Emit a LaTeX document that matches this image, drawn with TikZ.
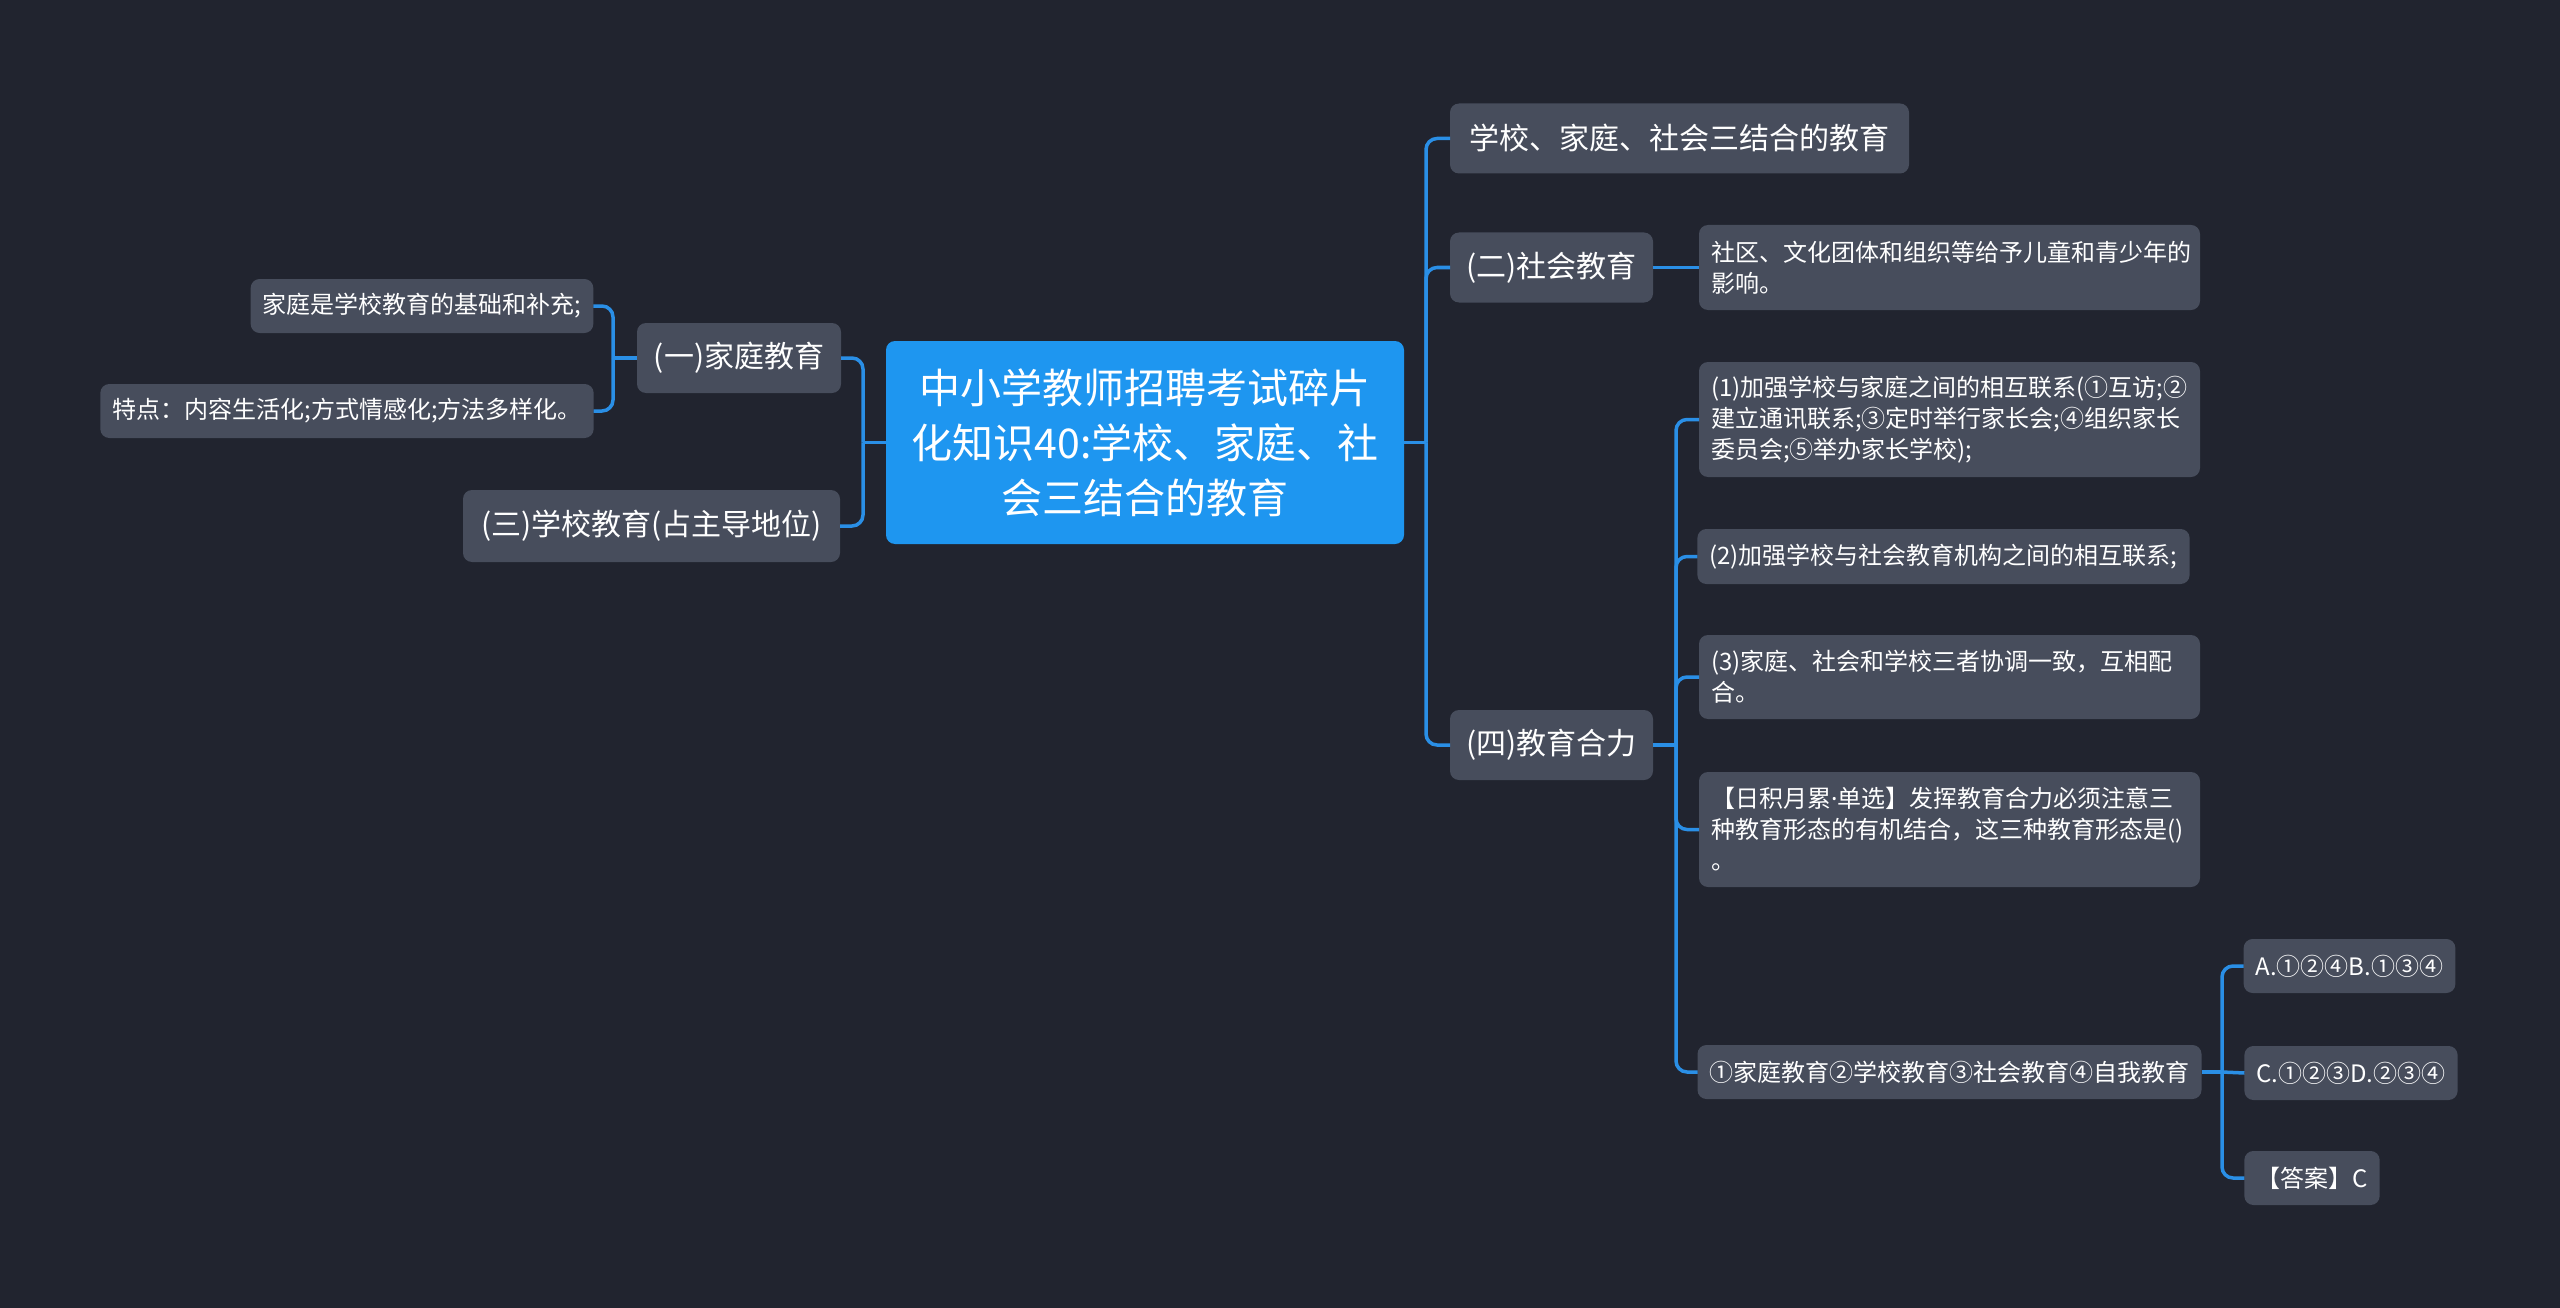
\documentclass[tikz,border=0pt]{standalone}
\usepackage{fontspec}
\setmainfont{Noto Sans CJK SC}
\newfontfamily\latinfont{Noto Sans}
\definecolor{bgcol}{HTML}{21242F}
\definecolor{nodefill}{HTML}{474D5C}
\definecolor{rootfill}{HTML}{1E96F0}
\definecolor{linkcol}{HTML}{2A8FE6}
\tikzset{
  box/.style={fill=nodefill, rounded corners=9pt, text=white, inner xsep=12pt, inner ysep=2pt, outer sep=0pt},
  lvone/.style={box, font=\fontsize{30}{38}\selectfont, align=center, minimum height=70pt},
  lvtwo/.style={box, font=\fontsize{24}{31}\selectfont},
  single/.style={lvtwo, align=center, minimum height=54pt},
  multi/.style={lvtwo, align=left},
  conn/.style={draw=linkcol, line width=3.5pt},
  elbow/.style={conn, rounded corners=11pt},
}
\begin{document}
\begin{tikzpicture}[x=1pt, y=-1pt]
\fill[bgcol] (0,0) rectangle (2560,1308);
\useasboundingbox (0,0) rectangle (2560,1308);

% root
\node[fill=rootfill, rounded corners=9pt, text=white, font=\fontsize{41}{55}\selectfont,
  align=center, text width=490pt, inner xsep=14pt, inner ysep=2pt, minimum height=203pt, outer sep=0pt]
  (root) at (1145,442.5) {中小学教师招聘考试碎片\\化知识40:学校、家庭、社\\会三结合的教育};

% left side
\node[lvone, minimum width=204pt] (fam) at (739,358) {(一)家庭教育};
\node[lvone, minimum width=377pt, minimum height=72pt] (sch) at (651.5,526) {(三)学校教育(占主导地位)};
\node[single, minimum width=338pt] (famA) at (422,306) {家庭是学校教育的基础和补充;};
\node[single, minimum width=488pt] (famB) at (347,411) {特点：内容生活化;方式情感化;方法多样化。};

% right side level 1
\node[lvone, minimum width=459pt] (tri) at (1679.5,138.5) {学校、家庭、社会三结合的教育};
\node[lvone, minimum width=203pt] (soc) at (1551.5,267.5) {(二)社会教育};
\node[lvone, minimum width=203pt] (force) at (1551.5,745) {(四)教育合力};

% level 2
\node[multi, text width=477pt, minimum height=85pt] (socA) at (1949.5,267.5)
  {社区、文化团体和组织等给予儿童和青少年的\\影响。};
\node[multi, text width=477pt, minimum height=115pt] (f1) at (1949.5,419.5)
  {(1)加强学校与家庭之间的相互联系(①互访;②\\建立通讯联系;③定时举行家长会;④组织家长\\委员会;⑤举办家长学校);};
\node[single, minimum width=488pt, minimum height=55pt] (f2) at (1943.5,556.5)
  {(2)加强学校与社会教育机构之间的相互联系;};
\node[multi, text width=477pt, minimum height=84pt] (f3) at (1949.5,677)
  {(3)家庭、社会和学校三者协调一致，互相配\\合。};
\node[multi, text width=477pt, minimum height=115pt] (f4) at (1949.5,829.5)
  {【日积月累{\latinfont ·}单选】发挥教育合力必须注意三\\种教育形态的有机结合，这三种教育形态是()\\。};
\node[single, minimum width=501pt] (f5) at (1949.5,1072)
  {①家庭教育②学校教育③社会教育④自我教育};

% level 3
\node[single, minimum width=209pt] (oA) at (2349.5,966) {A.①②④B.①③④};
\node[single, minimum width=212pt] (oC) at (2351,1073) {C.①②③D.②③④};
\node[single, minimum width=134pt] (ans) at (2312,1178) {【答案】C};

% spine coordinates
\coordinate (rR) at (1426,442.5);
\coordinate (rL) at (863,442.5);
\coordinate (famS) at (613,358);
\coordinate (forceS) at (1676,745);
\coordinate (f5S) at (2222,1072);

% connectors
\draw[conn] (root.east) -- (rR);
\draw[elbow] (rR) |- (tri.west);
\draw[elbow] (rR) |- (soc.west);
\draw[elbow] (rR) |- (force.west);

\draw[conn] (root.west) -- (rL);
\draw[elbow] (rL) |- (fam.east);
\draw[elbow] (rL) |- (sch.east);

\draw[conn] (fam.west) -- (famS);
\draw[elbow] (famS) |- (famA.east);
\draw[elbow] (famS) |- (famB.east);

\draw[conn] (soc.east) -- (socA.west);

\draw[conn] (force.east) -- (forceS);
\draw[elbow] (forceS) |- (f1.west);
\draw[elbow] (forceS) |- (f2.west);
\draw[elbow] (forceS) |- (f3.west);
\draw[elbow] (forceS) |- (f4.west);
\draw[elbow] (forceS) |- (f5.west);

\draw[conn] (f5.east) -- (f5S);
\draw[elbow] (f5S) |- (oA.west);
\draw[conn] (f5S) -- (oC.west);
\draw[elbow] (f5S) |- (ans.west);
\end{tikzpicture}
\end{document}
